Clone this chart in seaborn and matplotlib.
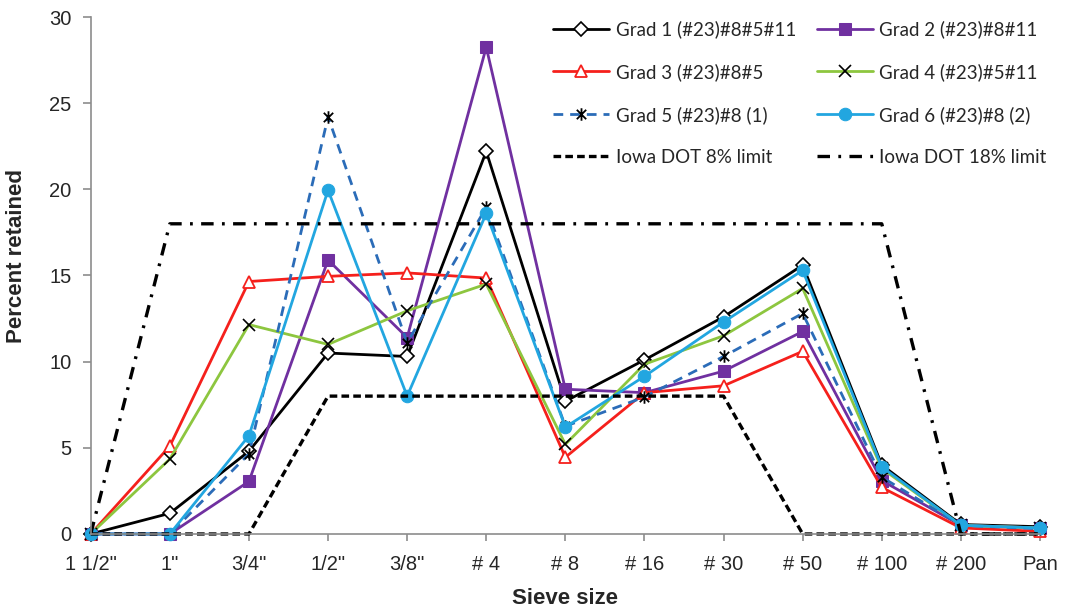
import numpy as np
import pandas as pd
import matplotlib
matplotlib.use("Agg")
import matplotlib.pyplot as plt
from matplotlib.path import Path
import seaborn as sns

sieves = ['1 1/2"', '1"', '3/4"', '1/2"', '3/8"', '# 4', '# 8', '# 16', '# 30', '# 50', '# 100', '# 200', 'Pan']
grad1 = [0, 1.2, 4.8, 10.5, 10.3, 22.2, 7.7, 10.1, 12.6, 15.6, 4.0, 0.55, 0.42]
grad2 = [0, 0, 3.05, 15.9, 11.4, 28.25, 8.4, 8.2, 9.45, 11.75, 3.1, 0.5, 0.35]
grad3 = [0, 5.1, 14.65, 14.95, 15.15, 14.85, 4.45, 8.2, 8.6, 10.6, 2.7, 0.35, 0.15]
grad4 = [0, 4.35, 12.15, 11.0, 12.95, 14.5, 5.2, 9.85, 11.5, 14.25, 3.8, 0.5, 0.35]
grad5 = [0, 0, 4.65, 24.2, 11.1, 18.95, 6.25, 7.95, 10.3, 12.8, 3.3, 0.5, 0.3]
grad6 = [0, 0, 5.7, 19.95, 8.0, 18.6, 6.2, 9.15, 12.3, 15.3, 3.9, 0.5, 0.35]
limit8 = [0, 0, 0, 8, 8, 8, 8, 8, 8, 0, 0, 0, 0]
limit18 = [0, 18, 18, 18, 18, 18, 18, 18, 18, 18, 18, 0, 0]

labels = ["Grad 1 (#23)#8#5#11", "Grad 2 (#23)#8#11", "Grad 3 (#23)#8#5",
          "Grad 4 (#23)#5#11", "Grad 5 (#23)#8 (1)", "Grad 6 (#23)#8 (2)",
          "Iowa DOT 8% limit", "Iowa DOT 18% limit"]

sns.set_style("white")
plt.rcParams['font.family'] = ['Liberation Sans', 'DejaVu Sans']
plt.rcParams['lines.scale_dashes'] = False

xpos = np.arange(len(sieves))

asterisk = Path([(0, -1), (0, 1), (-0.75, -0.75), (0.75, 0.75), (-0.75, 0.75), (0.75, -0.75)],
                [Path.MOVETO, Path.LINETO, Path.MOVETO, Path.LINETO, Path.MOVETO, Path.LINETO])

fig = plt.figure(figsize=(10.65, 6.12), dpi=100)
ax = fig.add_axes([0.0852, 0.1275, 0.8913, 0.8447])

series = [
    (grad1, dict(color='black', marker='D', markersize=7, markerfacecolor='white',
                 markeredgecolor='black', markeredgewidth=1.2, linewidth=2.0)),
    (grad2, dict(color='#7030A0', marker='s', markersize=9, markerfacecolor='#7030A0',
                 markeredgecolor='#7030A0', linewidth=2.0)),
    (grad3, dict(color='#F5201C', marker='^', markersize=9, markerfacecolor='white',
                 markeredgecolor='#F5201C', markeredgewidth=1.3, linewidth=2.0)),
    (grad4, dict(color='#8DC63F', marker='x', markersize=9, markeredgecolor='black',
                 markeredgewidth=1.2, linewidth=2.0)),
    (grad5, dict(color='#2B6CB8', marker=asterisk, markersize=9, markeredgecolor='black',
                 markerfacecolor='none', markeredgewidth=1.3, linewidth=2.0,
                 linestyle=(0, (7, 5)))),
    (grad6, dict(color='#22A6E0', marker='o', markersize=9, markerfacecolor='#22A6E0',
                 markeredgecolor='#22A6E0', linewidth=2.0)),
    (limit8, dict(color='black', linewidth=2.4, linestyle=(0, (5.5, 3)))),
    (limit18, dict(color='black', linewidth=2.4, linestyle=(0, (9, 6, 2, 6)))),
]

for (vals, kw), lab in zip(series, labels):
    sns.lineplot(x=xpos, y=vals, ax=ax, label=lab, clip_on=False, sort=False, **kw)

ax.set_xlim(0, len(sieves) - 1)
ax.set_ylim(0, 30)
ax.set_yticks(np.arange(0, 31, 5))
ax.set_xticks(xpos)
ax.set_xticklabels(sieves)

for s in ['top', 'right']:
    ax.spines[s].set_visible(False)
for s in ['left', 'bottom']:
    ax.spines[s].set_color('#8c8c8c')
    ax.spines[s].set_linewidth(1.2)

ax.tick_params(axis='y', direction='out', length=6, width=1.2, color='#8c8c8c',
               pad=8, labelsize=14.5, labelcolor='#262626', left=True)
ax.tick_params(axis='x', direction='out', length=5, width=1.2, color='#8c8c8c',
               pad=10, labelsize=14.5, labelcolor='#262626', bottom=True)

ax.set_ylabel('Percent retained', fontsize=16, fontweight='bold', color='#262626')
ax.set_xlabel('Sieve size', fontsize=16, fontweight='bold', color='#262626')
ax.yaxis.set_label_coords(-0.067, 0.538)
ax.xaxis.set_label_coords(0.5, -0.104)

handles, labs = ax.get_legend_handles_labels()
order = [0, 2, 4, 6, 1, 3, 5, 7]
leg = ax.legend([handles[i] for i in order], [labs[i] for i in order],
                ncol=2, loc='upper left', bbox_to_anchor=(0.519, 0.967),
                bbox_transform=fig.transFigure, frameon=False,
                prop={'family': 'Lato', 'size': 13.5},
                handlelength=3.0, handletextpad=0.35, columnspacing=1.1,
                labelspacing=1.33, borderpad=0, borderaxespad=0)
for t in leg.get_texts():
    t.set_color('#262626')

fig.savefig('out.png', dpi=100)
